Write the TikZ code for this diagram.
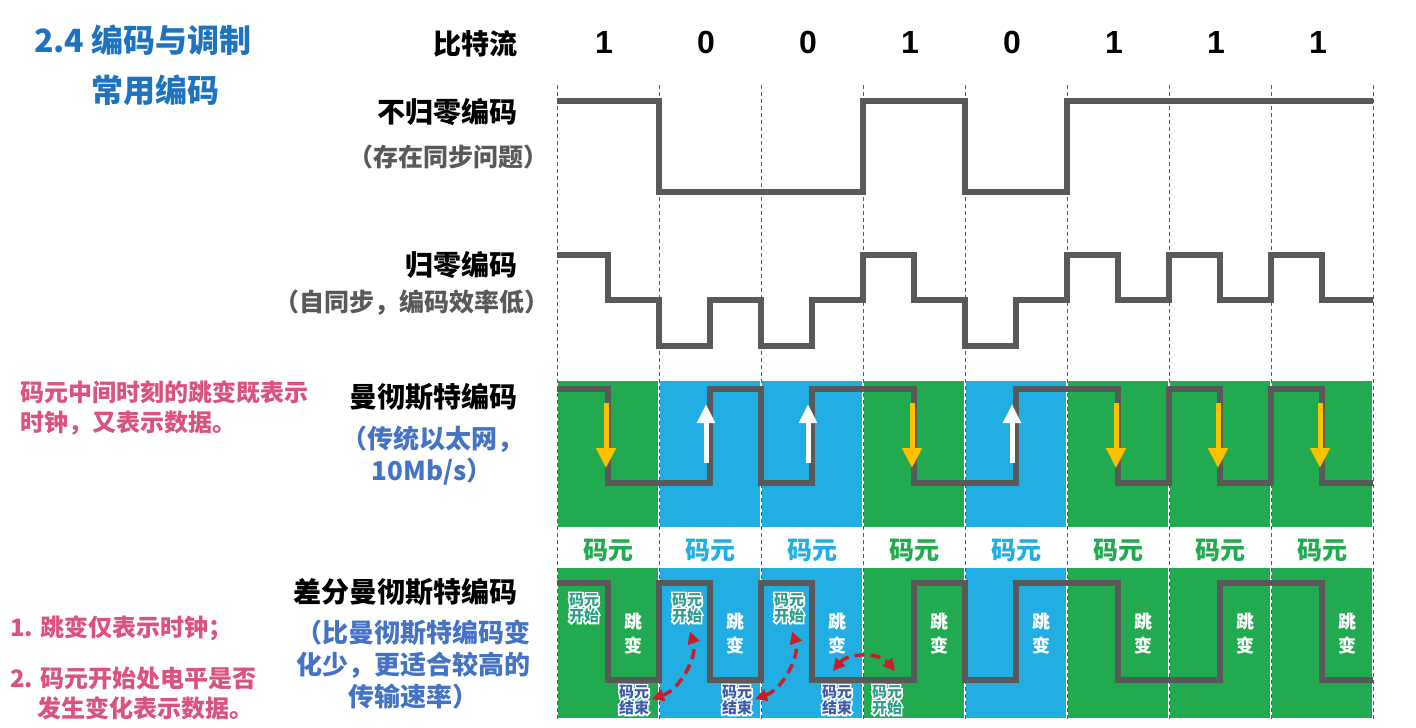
\documentclass[tikz,border=0pt]{standalone}
\usepackage{fontspec}
\setmainfont{Noto Sans CJK SC}
\newfontfamily\digitfont{Liberation Sans}
\newfontfamily\halofont{Noto Sans CJK SC}[BoldFeatures={FakeBold=20}]
\usetikzlibrary{arrows.meta}

\definecolor{wavegray}{RGB}{89,89,89}
\definecolor{cellgreen}{RGB}{33,170,80}
\definecolor{cellblue}{RGB}{34,174,227}
\definecolor{titleblue}{RGB}{30,115,192}
\definecolor{noteblue}{RGB}{68,114,196}
\definecolor{notepink}{RGB}{217,82,128}
\definecolor{arrowyellow}{RGB}{255,192,0}
\definecolor{arrowred}{RGB}{200,30,40}
\definecolor{tealtext}{RGB}{46,158,138}
\definecolor{darkblue}{RGB}{60,90,168}

\tikzset{
  wave/.style={draw=wavegray, line width=6.5pt},
  bitline/.style={draw=wavegray, line width=0.8pt, dash pattern=on 4pt off 3pt},
  heading/.style={font=\fontsize{28}{34}\selectfont\bfseries, anchor=east},
  graynote/.style={font=\fontsize{25}{30}\selectfont\bfseries, text=wavegray},
  bluenote/.style={font=\fontsize{26}{32}\selectfont\bfseries, text=noteblue, align=center},
  pinknote/.style={font=\fontsize{24}{30}\selectfont\bfseries, text=notepink, align=left, anchor=west},
  titletext/.style={font=\fontsize{32}{36}\selectfont\bfseries, text=titleblue},
  bitlabel/.style={font=\digitfont\fontsize{32}{36}\selectfont\bfseries},
  symbol/.style={font=\fontsize{25}{30}\selectfont\bfseries},
  jump/.style={font=\fontsize{18}{24}\selectfont\bfseries, text=white, align=center},
  tagtext/.style={font=\fontsize{15}{16}\selectfont\bfseries, align=center},
  halo/.style={font=\halofont\fontsize{15}{16}\selectfont\bfseries, align=center, text=white},
  downarrow/.style={draw=arrowyellow, line width=5pt, -{Triangle[length=20pt,width=19pt]}},
  uparrow/.style={draw=white, line width=5pt, -{Triangle[length=19pt,width=17pt]}},
  redarrow/.style={draw=arrowred, line width=3.5pt, dash pattern=on 10pt off 6pt,
    {Triangle[length=12pt,width=12pt]}-{Triangle[length=12pt,width=12pt]}},
}

\begin{document}
\begin{tikzpicture}[x=1pt, y=-1pt, inner sep=0pt]
    \useasboundingbox (0,0) rectangle (1416,728);
    \fill[white] (0,0) rectangle (1416,728);

    % Title
    \node[titletext] (title) at (143,40) {2.4 编码与调制};
    \node[titletext] (subtitle) at (155,90) {常用编码};

    % Bit stream
    \node[heading] (stream) at (518,44) {比特流};

    % Coloured cells, symbols and bits
    \foreach \b/\c [count=\i from 0] in {1/cellgreen,0/cellblue,0/cellblue,1/cellgreen,0/cellblue,1/cellgreen,1/cellgreen,1/cellgreen} {
        \fill[\c] (558+102*\i,381) rectangle (658+102*\i,527);
        \fill[\c] (558+102*\i,568) rectangle (658+102*\i,718);
        \node[bitlabel] (bit\i) at (604+102*\i,42) {\b};
        \node[symbol, text=\c] (sym\i) at (608+102*\i,550) {码元};
        \node[jump] (jump\i) at (633+102*\i,634) {跳\\变};
    }

    % Bit boundaries
    \foreach \i in {0,...,8}
        \draw[bitline] (557+102*\i,85) -- (557+102*\i,720);

    % NRZ
    \node[heading] (nrz) at (518,112) {不归零编码};
    \node[graynote] (nrznote) at (448,157) {（存在同步问题）};
    \draw[wave] (557,101) -- (659,101) -- (659,192) -- (863,192) -- (863,101) -- (965,101)
        -- (965,192) -- (1067,192) -- (1067,101) -- (1373,101);

    % RZ
    \node[heading] (rz) at (518,265) {归零编码};
    \node[graynote] (rznote) at (412,303) {（自同步，编码效率低）};
    \draw[wave] (557,255) -- (608,255) -- (608,300) -- (659,300) -- (659,346) -- (710,346)
        -- (710,300) -- (761,300) -- (761,346) -- (812,346) -- (812,300) -- (863,300)
        -- (863,255) -- (914,255) -- (914,300) -- (965,300) -- (965,346) -- (1016,346)
        -- (1016,300) -- (1067,300) -- (1067,255) -- (1118,255) -- (1118,300) -- (1169,300)
        -- (1169,255) -- (1220,255) -- (1220,300) -- (1271,300) -- (1271,255) -- (1322,255)
        -- (1322,300) -- (1373,300);

    % Manchester
    \node[heading] (man) at (518,397) {曼彻斯特编码};
    \node[bluenote] (mannote) at (432,456) {（传统以太网，\\10Mb/s）};
    \node[pinknote] (mantip) at (20,408) {码元中间时刻的跳变既表示\\时钟，又表示数据。};
    \draw[wave] (557,389) -- (608,389) -- (608,483) -- (710,483) -- (710,389) -- (761,389)
        -- (761,483) -- (812,483) -- (812,389) -- (914,389) -- (914,483) -- (1016,483)
        -- (1016,389) -- (1118,389) -- (1118,483) -- (1169,483) -- (1169,389) -- (1220,389)
        -- (1220,483) -- (1271,483) -- (1271,389) -- (1322,389) -- (1322,483) -- (1373,483);
    \foreach \i in {0,3,5,6,7}
        \draw[downarrow] (606+102*\i,403) -- (606+102*\i,468);
    \foreach \i in {1,2,4}
        \draw[uparrow] ({604+102*\i},463) -- ({604+102*\i},404);

    % Differential Manchester
    \node[heading] (diff) at (518,592) {差分曼彻斯特编码};
    \node[bluenote] (diffnote) at (413,665) {（比曼彻斯特编码变\\化少，更适合较高的\\传输速率）};
    \node[pinknote] (tipone) at (10,628) {1. 跳变仅表示时钟；};
    \node[pinknote] (tiptwo) at (10,678) {2. 码元开始处电平是否};
    \node[pinknote] (tiptwob) at (37,708) {发生变化表示数据。};
    \draw[wave] (557,583) -- (608,583) -- (608,680) -- (659,680) -- (659,583) -- (710,583)
        -- (710,680) -- (761,680) -- (761,583) -- (812,583) -- (812,680) -- (914,680)
        -- (914,583) -- (965,583) -- (965,680) -- (1016,680) -- (1016,583) -- (1118,583)
        -- (1118,680) -- (1220,680) -- (1220,583) -- (1322,583) -- (1322,680) -- (1373,680);

    % Start / end tags
    \foreach \n/\x/\y/\c/\t in {s0/584/608/tealtext/开始, s1/687/608/tealtext/开始,
        s2/789/608/tealtext/开始, e0/634/700/darkblue/结束, e1/737/700/darkblue/结束,
        e2/837/700/darkblue/结束, s3/887/700/tealtext/开始} {
        \node[halo] (\n h) at (\x,\y) {码元\\\t};
        \node[tagtext, text=\c] (\n) at (\x,\y) {码元\\\t};
    }
    \draw[redarrow, shorten <=3pt, shorten >=9pt] (e0.east) to[bend right=45] (s1.south);
    \draw[redarrow, shorten <=3pt, shorten >=9pt] (e1.east) to[bend right=45] (s2.south);
    \draw[redarrow] ([xshift=-4pt,yshift=14pt]e2.north) to[bend left=50] ([xshift=8pt,yshift=14pt]s3.north);
\end{tikzpicture}
\end{document}
